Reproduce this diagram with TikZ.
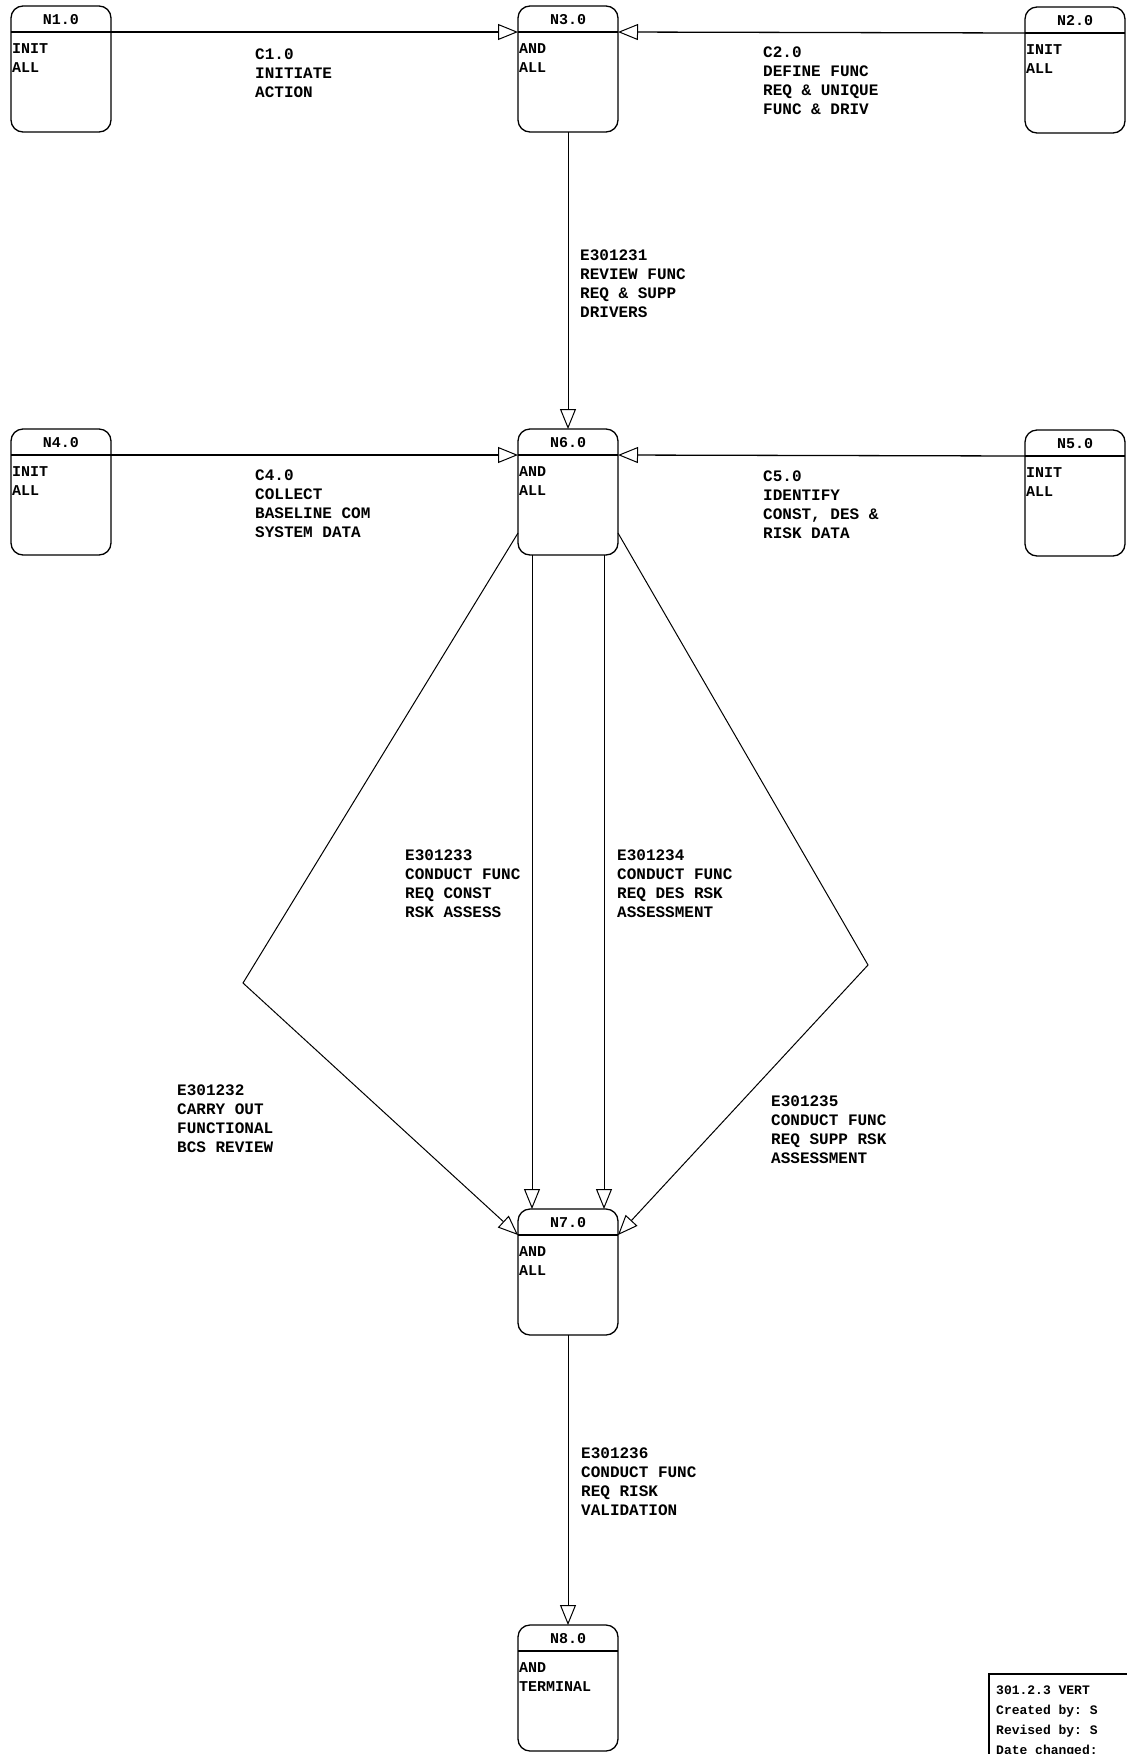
\documentclass[tikz,border=0pt]{standalone}
\usepackage{fontspec}
\setmonofont{Liberation Mono}
\usetikzlibrary{arrows.meta,calc}
\newcommand{\flowbox}[5]{%
  \node[fbox, anchor=north west] (#1) at #2 {};
  \coordinate (#1-l) at ($(#1.north west)+(0,26)$);
  \coordinate (#1-r) at ($(#1.north east)+(0,26)$);
  \draw[divline] (#1-l) -- (#1-r);
  \node[ftitle] (#1-t) at ($(#1.north)+(0,14)$) {#3};
  \node[fbody] (#1-a) at ($(#1-l)+(1,17)$) {#4};
  \node[fbody] (#1-b) at ($(#1-l)+(1,36)$) {#5};
}
\begin{document}
\begin{tikzpicture}[x=1pt,y=-1pt,
  fbox/.style={draw, line width=1.3pt, rounded corners=12pt, minimum width=100pt, minimum height=126pt, inner sep=0pt, outer sep=0pt},
  divline/.style={line width=1.3pt},
  ftitle/.style={inner sep=0pt, font=\ttfamily\bfseries\fontsize{15}{18}\selectfont},
  fbody/.style={anchor=west, inner sep=0pt, font=\ttfamily\bfseries\fontsize{15}{18}\selectfont},
  lab/.style={anchor=north west, align=left, inner sep=0pt, font=\ttfamily\bfseries\fontsize{16}{19}\selectfont},
  conn/.style={draw, line width=1pt, -{Triangle[open, length=20pt, width=16pt, line width=1pt]}},
  hconn/.style={conn, line width=1.3pt}
]
\useasboundingbox (0,0) rectangle (1127,1754);
\clip (0,0) rectangle (1127,1754);

% boxes
\flowbox{n1}{(11,6)}{N1.0}{INIT}{ALL}
\flowbox{n3}{(518,6)}{N3.0}{AND}{ALL}
\flowbox{n2}{(1025,7)}{N2.0}{INIT}{ALL}
\flowbox{n4}{(11,429)}{N4.0}{INIT}{ALL}
\flowbox{n6}{(518,429)}{N6.0}{AND}{ALL}
\flowbox{n5}{(1025,430)}{N5.0}{INIT}{ALL}
\flowbox{n7}{(518,1209)}{N7.0}{AND}{ALL}
\flowbox{n8}{(518,1625)}{N8.0}{AND}{TERMINAL}

% helper coordinates
\coordinate (n6ls) at ($(n6.south west)+(0,-22)$);
\coordinate (n6rs) at ($(n6.south east)+(0,-22)$);
\coordinate (bl) at (243,983);
\coordinate (br) at (868,965);

% connectors
\draw[hconn] (n1-r) -- (n3-l);
\draw[hconn] (n2-l) -- (n3-r);
\draw[conn] (n3.south) -- (n6.north);
\draw[hconn] (n4-r) -- (n6-l);
\draw[hconn] (n5-l) -- (n6-r);
\draw[conn] (n6ls) -- (bl) -- (n7-l);
\draw[conn] (n6rs) -- (br) -- (n7-r);
\draw[conn] ($(n6.south west)+(14,0)$) -- ($(n7.north west)+(14,0)$);
\draw[conn] ($(n6.south east)+(-14,0)$) -- ($(n7.north east)+(-14,0)$);
\draw[conn] (n7.south) -- (n8.north);

% labels
\node[lab] (c1) at (255,49) {C1.0\\INITIATE\\ACTION};
\node[lab] (c2) at (763,47) {C2.0\\DEFINE FUNC\\REQ \& UNIQUE\\FUNC \& DRIV};
\node[lab] (e1) at (580,250) {E301231\\REVIEW FUNC\\REQ \& SUPP\\DRIVERS};
\node[lab] (c4) at (255,470) {C4.0\\COLLECT\\BASELINE COM\\SYSTEM DATA};
\node[lab] (c5) at (763,471) {C5.0\\IDENTIFY\\CONST, DES \&\\RISK DATA};
\node[lab] (e3) at (405,850) {E301233\\CONDUCT FUNC\\REQ CONST\\RSK ASSESS};
\node[lab] (e4) at (617,850) {E301234\\CONDUCT FUNC\\REQ DES RSK\\ASSESSMENT};
\node[lab] (e2) at (177,1085) {E301232\\CARRY OUT\\FUNCTIONAL\\BCS REVIEW};
\node[lab] (e5) at (771,1096) {E301235\\CONDUCT FUNC\\REQ SUPP RSK\\ASSESSMENT};
\node[lab] (e6) at (581,1448) {E301236\\CONDUCT FUNC\\REQ RISK\\VALIDATION};

% title block (cut by the page edge)
\draw[line width=1.2pt] (1140,1674) -- (989,1674) -- (989,1770);
\node[anchor=north west, align=left, inner sep=0pt, font=\ttfamily\bfseries\fontsize{13}{19.8}\selectfont] (tb) at (996,1686) {301.2.3 VERT\\Created by: S\\Revised by: S\\Date changed:};
\end{tikzpicture}
\end{document}
